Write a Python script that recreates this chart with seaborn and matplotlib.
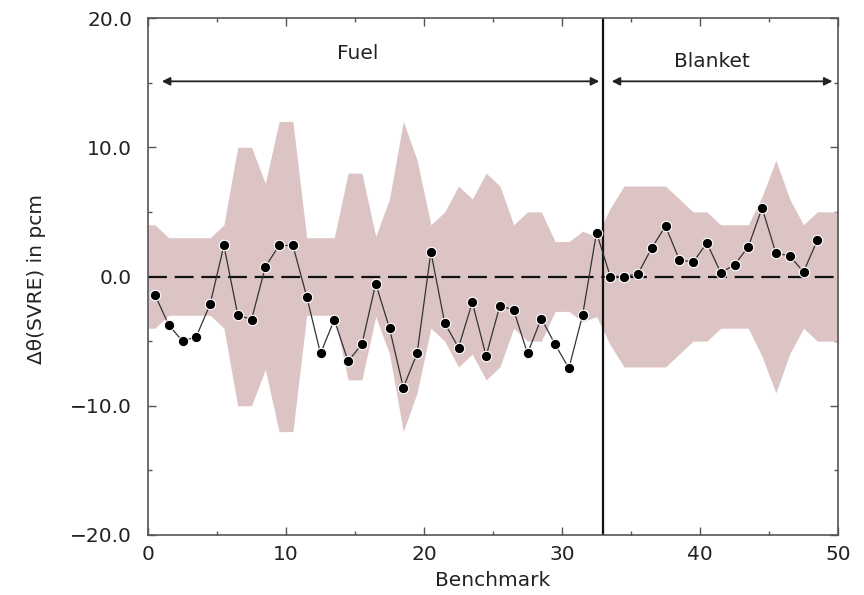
import numpy as np
import pandas as pd
import matplotlib
matplotlib.use("Agg")
import matplotlib.pyplot as plt
import seaborn as sns
from matplotlib.ticker import MultipleLocator, FuncFormatter

# Data
fuel_dtheta = [-1.4, -3.75, -5.0, -4.65, -2.15, 2.4, -2.95, -3.35, 0.75, 2.4, 2.4,
               -1.55, -5.95, -3.35, -6.55, -5.25, -0.55, -4.0, -8.6, -5.95, 1.9,
               -3.6, -5.5, -2.0, -6.15, -2.25, -2.6, -5.95, -3.25, -5.25, -7.1,
               -2.95, 3.4]
blanket_dtheta = [0.0, 0.0, 0.2, 2.2, 3.9, 1.3, 1.1, 2.6, 0.3, 0.9, 2.3, 5.3,
                  1.8, 1.6, 0.35, 2.8]

# half width of the shaded uncertainty band
fuel_unc = [4, 3, 3, 3, 3, 4, 10, 10, 7.2, 12, 12, 3, 3, 3, 8, 8, 3.1, 6, 12, 9,
            4, 5, 7, 6, 8, 7, 4, 5, 5, 2.7, 2.7, 3.5, 3.1]
blanket_unc = [5.3, 7, 7, 7, 7, 6, 5, 5, 4, 4, 4, 6.2, 9, 6, 4, 5]

n_fuel = len(fuel_dtheta)
dtheta = fuel_dtheta + blanket_dtheta
unc = np.array(fuel_unc + blanket_unc, dtype=float)
benchmark = np.arange(len(dtheta)) + 0.5

df = pd.DataFrame({"Benchmark": benchmark, "dtheta": dtheta})

sns.set_theme(style="ticks")
plt.rcParams["font.family"] = ["DejaVu Sans"]
plt.rcParams["axes.unicode_minus"] = True

fig = plt.figure(figsize=(8.64, 5.95), dpi=100)
ax = fig.add_axes([148 / 864, 1 - 535 / 595, 690 / 864, 517 / 595])

# uncertainty band, held flat out to the plot edges
xb = np.r_[0, benchmark, 50]
ub = np.r_[unc[0], unc, unc[-1]]
ax.fill_between(xb, -ub, ub, color="#dcc4c5", lw=0, zorder=1)

ax.axhline(0, color="#111111", lw=1.6, ls=(0, (8.5, 3.5)), zorder=2)
ax.axvline(n_fuel, color="#111111", lw=1.6, zorder=2)

sns.lineplot(data=df, x="Benchmark", y="dtheta", ax=ax, color="#333333", lw=0.9,
             marker="o", markersize=7.5, markerfacecolor="black",
             markeredgecolor="white", markeredgewidth=0.8, zorder=3)

# region arrows and labels
arrow = dict(arrowstyle="<|-|>", color="#222222", lw=1.3, mutation_scale=12,
             shrinkA=0, shrinkB=0)
ax.annotate("", xy=(1.0, 15.1), xytext=(32.7, 15.1), arrowprops=arrow)
ax.annotate("", xy=(33.6, 15.1), xytext=(49.6, 15.1), arrowprops=arrow)
ax.text(15.2, 17.25, "Fuel", ha="center", va="center", fontsize=14.5, color="#222222")
ax.text(40.9, 16.6, "Blanket", ha="center", va="center", fontsize=14.5, color="#222222")

ax.set_xlim(0, 50)
ax.set_ylim(-20, 20)
ax.xaxis.set_major_locator(MultipleLocator(10))
ax.xaxis.set_minor_locator(MultipleLocator(5))
ax.yaxis.set_major_locator(MultipleLocator(10))
ax.yaxis.set_minor_locator(MultipleLocator(5))
ax.yaxis.set_major_formatter(FuncFormatter(lambda v, p: f"{v:.1f}".replace("-", "\u2212")))

ax.tick_params(which="both", direction="in", top=True, right=True,
               color="#555555", labelsize=14.5, labelcolor="#222222", width=1)
ax.tick_params(which="major", length=6)
ax.tick_params(which="minor", length=3)
ax.tick_params(axis="y", which="both", pad=11.5)
ax.tick_params(axis="x", which="both", pad=7.5)
for s in ax.spines.values():
    s.set_color("#555555")
    s.set_linewidth(1.2)

ax.set_xlabel("Benchmark", fontsize=14.5, color="#222222")
ax.set_ylabel("Δθ(SVRE) in pcm", fontsize=14.5, color="#222222")
ax.xaxis.set_label_coords(0.5, -0.07)
ax.yaxis.set_label_coords(-0.148, 0.495)

fig.savefig("out.png", dpi=100)
